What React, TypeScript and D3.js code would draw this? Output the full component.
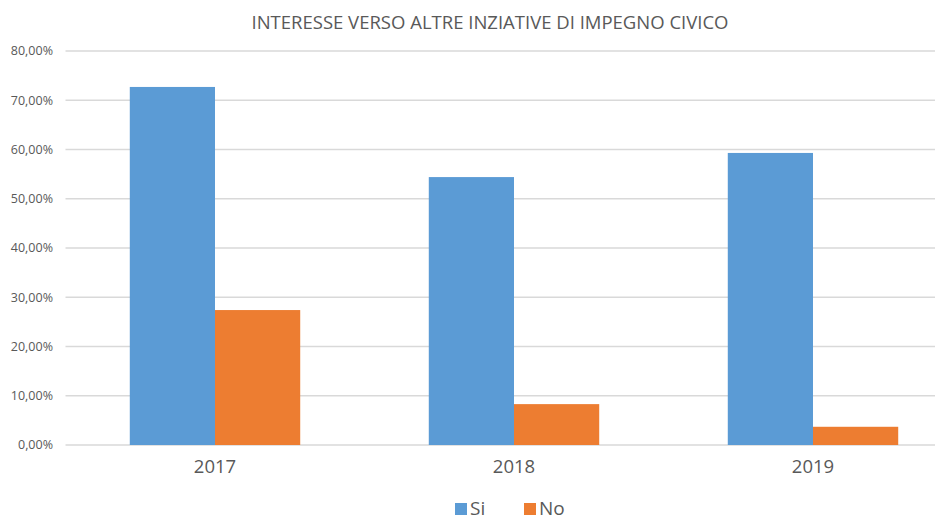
import * as d3 from "d3";

const years = ["2017", "2018", "2019"];
const siValues = [72.7, 54.4, 59.3];
const noValues = [27.4, 8.3, 3.7];
const yTicks = [0, 10, 20, 30, 40, 50, 60, 70, 80];
const seriesNames = ["Si", "No"];
const colors = ["#5B9BD5", "#ED7D31"];

const W = 935;
const H = 521;
const MARGIN = { top: 51, left: 65.5, right: -27.5, bottom: 76 };

export default function App() {
  const x = d3
    .scaleBand<string>()
    .domain(years)
    .range([MARGIN.left, W - MARGIN.right])
    .paddingInner(0.43)
    .paddingOuter(0.215);
  const sub = d3.scaleBand<string>().domain(seriesNames).range([0, x.bandwidth()]);
  const y = d3.scaleLinear().domain([0, 80]).range([H - MARGIN.bottom, MARGIN.top]);

  const series = [siValues, noValues];
  const fmt = (v: number) => v.toFixed(2).replace(".", ",") + "%";

  return (
    <svg width={W} height={H} style={{ position: "absolute", left: 0, top: 0, background: "#fff" }}
      fontFamily="'Open Sans', 'Noto Sans', sans-serif">
      <text x={490} y={29} textAnchor="middle" fontSize={18.5} fill="#595959">
        INTERESSE VERSO ALTRE INZIATIVE DI IMPEGNO CIVICO
      </text>
      {yTicks.map((t) => (
        <g key={t}>
          <line x1={MARGIN.left} x2={W} y1={y(t)} y2={y(t)} stroke="#D9D9D9" strokeWidth={1.3} />
          <text x={53} y={y(t)} dy="0.35em" textAnchor="end" fontSize={12.5} fill="#595959">
            {fmt(t)}
          </text>
        </g>
      ))}
      {years.map((yr, i) => (
        <g key={yr}>
          {series.map((s, j) => (
            <rect
              key={j}
              x={(x(yr) ?? 0) + (sub(seriesNames[j]) ?? 0)}
              y={y(s[i])}
              width={sub.bandwidth()}
              height={y(0) - y(s[i])}
              fill={colors[j]}
            />
          ))}
          <text x={(x(yr) ?? 0) + x.bandwidth() / 2} y={473} textAnchor="middle" fontSize={18.5} fill="#595959">
            {yr}
          </text>
        </g>
      ))}
      {seriesNames.map((n, j) => (
        <g key={n} transform={`translate(${455 + j * 69},0)`}>
          <rect x={0} y={503} width={12} height={12} fill={colors[j]} />
          <text x={15} y={515} fontSize={19} fill="#595959">{n}</text>
        </g>
      ))}
    </svg>
  );
}
